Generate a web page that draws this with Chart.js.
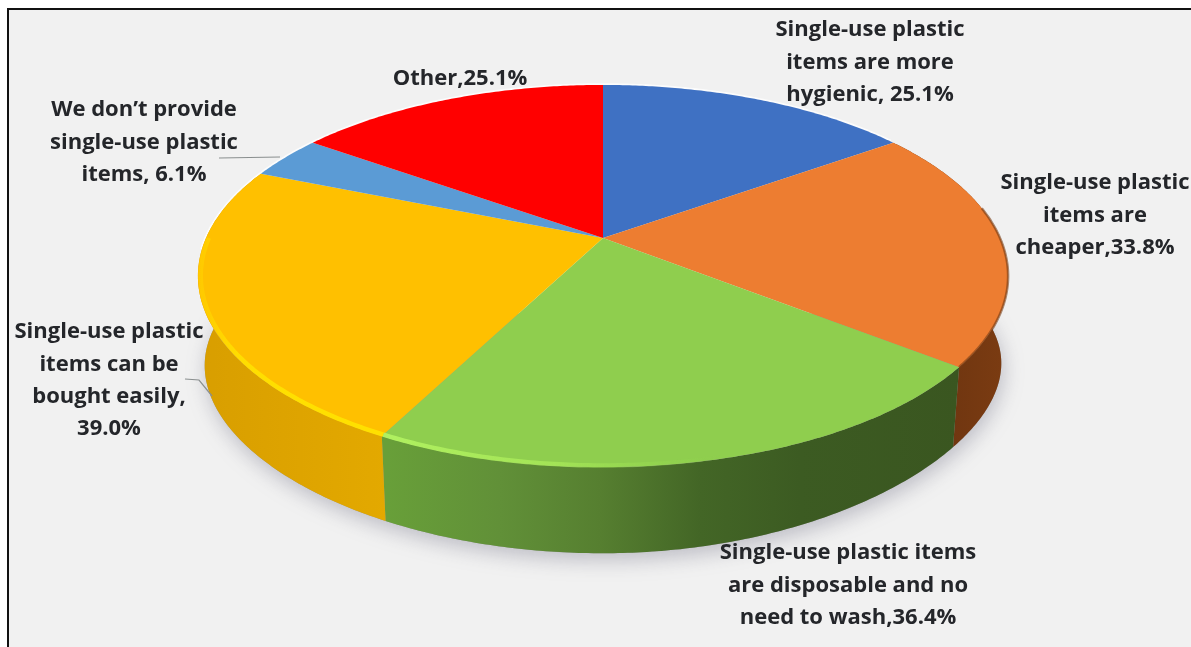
<!DOCTYPE html>
<html><head><meta charset="utf-8">
<style>
html,body{margin:0;padding:0;background:#fff;overflow:hidden}
#wrap{position:absolute;left:0;top:0;width:1191px;height:647px}
#panel{position:absolute;left:7px;top:8px;width:1184px;height:639px;background:#f1f1f1;border-left:2px solid #111;border-top:2px solid #111;box-sizing:border-box}
canvas{position:absolute;left:0;top:0}
</style>
<script src="https://cdn.jsdelivr.net/npm/chart.js@4"></script>
</head><body>
<div id="wrap"><div id="panel"></div><canvas id="c" width="1191" height="647"></canvas></div>
<script>
const categories = ["Single-use plastic items are more hygienic","Single-use plastic items are cheaper","Single-use plastic items are disposable and no need to wash","Single-use plastic items can be bought easily","We don't provide single-use plastic items","Other"];
const values = [25.1,33.8,36.4,39.0,6.1,25.1];
const topColors = ["#3f71c3","#ed7d31","#8fce4e","#ffc000","#5b9bd5","#ff0000"];
const labelLines = [
 ["Single-use plastic","items are more","hygienic, 25.1%"],
 ["Single-use plastic","items are","cheaper,33.8%"],
 ["Single-use plastic items","are disposable and no","need to wash,36.4%"],
 ["Single-use plastic","items can be","bought easily,","39.0%"],
 ["We don\u2019t provide","single-use plastic","items, 6.1%"],
 ["Other,25.1%"]
];
const labelAnchors = [[870,30],[1095,183],[848,553],[109,332],[144,110],[460,79]];
const lineGap = 32.3;
const wallStops = [
 [],
 [[940,"#6e3510"],[1010,"#7c3c12"]],
 [[388,"#689f39"],[500,"#619038"],[600,"#567f30"],[700,"#436626"],[800,"#3c5b22"],[960,"#3a5620"]],
 [[195,"#d89e00"],[388,"#e3a900"]],
 [],[]
];

const K=0.199, AX=1.668, BY=0.771;            // top face projection, relative to the pie radius
const K2=0.199, AX2=1.64, BY2=0.748, DROP=93; // bottom rim
function topPt(m,t){const u=Math.cos(t),v=Math.sin(t),w=1-K*v;
  return [m.x+m.outerRadius*AX*u/w, m.y+m.outerRadius*BY*v/w];}
function botPt(m,t){const u=Math.cos(t),v=Math.sin(t),w=1-K2*v;
  const tilt=(u>0?24:12)*u*u*Math.max(v,0);
  return [m.x+m.outerRadius*AX2*u/w, m.y+DROP+m.outerRadius*BY2*v/w-tilt];}
function trace(ctx,f,m,a,b,first){const n=Math.max(2,Math.ceil(Math.abs(b-a)/0.01));
  for(let i=0;i<=n;i++){const p=f(m,a+(b-a)*i/n);
    if(i===0&&first)ctx.moveTo(p[0],p[1]);else ctx.lineTo(p[0],p[1]);}}

const pie3d={id:"pie3d",
 beforeDatasetsDraw(chart){
  const ctx=chart.ctx, arcs=chart.getDatasetMeta(0).data;
  const m0=arcs[0];
  ctx.save();
  ctx.filter="blur(0.7px)";
  // soft shadow on the ground
  ctx.save();
  ctx.shadowColor="rgba(80,80,105,0.32)";ctx.shadowBlur=20;ctx.shadowOffsetY=7;ctx.shadowOffsetX=2;
  ctx.beginPath();trace(ctx,botPt,m0,-0.1,Math.PI+0.1,true);ctx.closePath();
  ctx.fillStyle="#999";ctx.fill();
  ctx.restore();
  // pale halo behind the far rim
  ctx.beginPath();trace(ctx,topPt,m0,Math.PI*0.98,Math.PI*1.8,true);
  ctx.strokeStyle="rgba(255,255,255,0.75)";ctx.lineWidth=3.5;ctx.stroke();
  // side walls
  arcs.forEach((a,i)=>{
    const s=wallStops[i]; if(!s.length) return;
    const g=ctx.createLinearGradient(s[0][0],0,s[s.length-1][0],0);
    const span=s[s.length-1][0]-s[0][0];
    s.forEach(p=>g.addColorStop((p[0]-s[0][0])/span,p[1]));
    ctx.beginPath();
    trace(ctx,topPt,a,a.startAngle,a.endAngle,true);
    trace(ctx,botPt,a,a.endAngle,a.startAngle,false);
    ctx.closePath();ctx.fillStyle=g;ctx.fill();
  });
  // top faces
  arcs.forEach((a,i)=>{
    ctx.beginPath();ctx.moveTo(a.x,a.y);
    trace(ctx,topPt,a,a.startAngle,a.endAngle,false);
    ctx.closePath();ctx.fillStyle=a.options.backgroundColor;ctx.fill();
  });
  // bevel along the rim
  const o=arcs[1], y=arcs[3], gr=arcs[2];
  const rim=(a,t1,t2,color,w,f)=>{
    ctx.beginPath();
    const sc={x:a.x,y:a.y,outerRadius:a.outerRadius*f};
    trace(ctx,topPt,sc,t1,t2,true);
    ctx.strokeStyle=color;ctx.lineWidth=w;ctx.stroke();};
  const g1=ctx.createLinearGradient(198,0,300,0);
  g1.addColorStop(0,"rgba(255,225,0,0.25)");g1.addColorStop(0.4,"#ffdd00");g1.addColorStop(1,"#ffe000");
  rim(y,y.startAngle,Math.PI*1.0,g1,4.5,0.993);
  const g2=ctx.createLinearGradient(388,0,720,0);
  g2.addColorStop(0,"#b0f060");g2.addColorStop(0.5,"rgba(170,235,90,0.75)");g2.addColorStop(1,"rgba(150,220,80,0)");
  rim(gr,gr.endAngle,gr.startAngle,g2,4.5,0.993);
  rim(o,o.startAngle+0.45,o.endAngle,"rgba(120,60,20,0.6)",2.5,1);
  ctx.restore();
  return false;
 },
 afterDraw(chart){
  const ctx=chart.ctx;
  ctx.save();
  ctx.filter="blur(0.45px)";
  // leader lines
  ctx.strokeStyle="#8a8f8f";ctx.lineWidth=1.2;
  ctx.beginPath();ctx.moveTo(219,158);ctx.lineTo(280,157);ctx.stroke();
  ctx.beginPath();ctx.moveTo(185,379);ctx.lineTo(199,380);ctx.lineTo(212,396);ctx.stroke();
  // labels
  ctx.fillStyle="#24262a";ctx.textAlign="center";ctx.textBaseline="middle";
  ctx.font="bold 22px 'Open Sans'";
  labelLines.forEach((ls,i)=>{
    ls.forEach((t,j)=>ctx.fillText(t,labelAnchors[i][0],labelAnchors[i][1]+j*lineGap));
  });
  ctx.restore();
 }
};

new Chart(document.getElementById("c"),{
 type:"pie",
 data:{labels:categories,datasets:[{data:values,backgroundColor:topColors,borderWidth:0}]},
 options:{responsive:false,animation:false,
  layout:{padding:{left:15,right:0,top:0,bottom:171}},
  events:[],
  plugins:{legend:{display:false},tooltip:{enabled:false},title:{display:false}}},
 plugins:[pie3d]
});
</script>
</body></html>
